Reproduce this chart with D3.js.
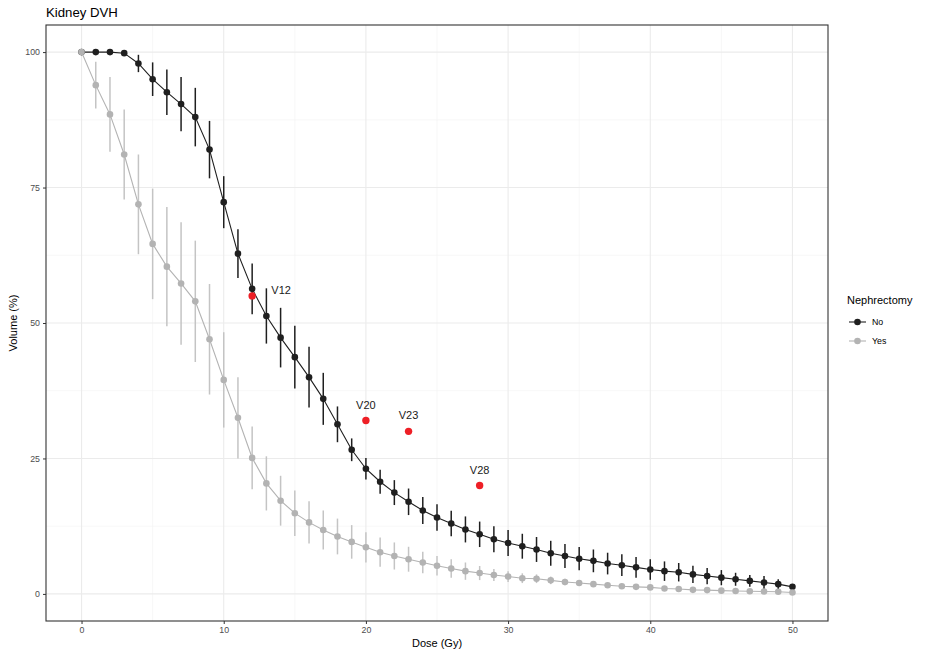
<!DOCTYPE html>
<html><head><meta charset="utf-8">
<script src="https://cdn.jsdelivr.net/npm/d3@7"></script>
<style>body{margin:0;background:#fff}svg{display:block}</style>
</head><body>
<script>
const dose = d3.range(0, 51);
const noMean = [100,100,100,99.8,97.9,95.0,92.6,90.4,88.0,82.0,72.3,62.8,56.3,51.3,47.3,43.7,40.0,36.0,31.3,26.6,23.1,20.7,18.7,17.0,15.4,14.1,13.0,11.9,11.0,10.1,9.4,8.8,8.2,7.5,7.0,6.5,6.1,5.6,5.3,4.9,4.5,4.2,4.0,3.6,3.3,3.0,2.7,2.4,2.1,1.8,1.3];
const noErr = [0,0,0,0.3,1.6,3.1,4.2,5.0,5.4,5.3,4.8,4.5,4.7,5.1,5.5,5.8,5.6,4.8,3.3,2.1,2.0,2.2,2.3,2.45,2.5,2.45,2.35,2.4,2.35,2.4,2.4,2.3,2.3,2.3,2.2,2.15,2.1,2.0,2.0,1.9,1.9,1.8,1.7,1.6,1.5,1.4,1.2,1.1,1.2,0.9,0.4];
const yesMean = [100,93.9,88.5,81.1,71.9,64.6,60.4,57.3,54.0,47.0,39.5,32.5,25.1,20.4,17.2,14.9,13.2,11.8,10.6,9.6,8.6,7.7,7.0,6.4,5.8,5.2,4.7,4.2,3.85,3.5,3.2,2.9,2.8,2.5,2.2,2.0,1.8,1.6,1.4,1.3,1.2,1.0,0.9,0.75,0.7,0.6,0.55,0.5,0.45,0.4,0.25];
const yesErr = [0,4.3,6.9,8.3,9.2,10.2,11.0,11.3,11.2,10.2,8.8,7.5,5.8,5.0,4.6,4.2,3.9,3.6,3.3,3.1,2.8,2.7,2.5,2.3,2.0,1.8,1.7,1.6,1.3,1.1,1.0,0.9,0.8,0.7,0.6,0.5,0.5,0.4,0.3,0.3,0.3,0.2,0.2,0.2,0.2,0.2,0.1,0.1,0.1,0.1,0.1];
const constraintLabels = ["V12","V20","V23","V28"];
const constraintDose = [12,20,23,28];
const constraintVol = [55,32,30,20];
const xTicks = [0,10,20,30,40,50];
const yTicks = [0,25,50,75,100];
const groups = ["No","Yes"];

const W = 941, H = 653;
const margin = {left:46, right:941-828, top:25, bottom:653-621};
const font = "'Liberation Sans', Arial, Helvetica, sans-serif";
const colors = {No:"#1f1f1f", Yes:"#b3b3b3"};
const errColors = {No:"#1f1f1f", Yes:"#c4c4c4"};

const svg = d3.select("body").append("svg").attr("width",W).attr("height",H)
  .style("font-family", font);

const x = d3.scaleLinear().domain([-2.5,52.5]).range([margin.left, W-margin.right]);
const y = d3.scaleLinear().domain([-5,105]).range([H-margin.bottom, margin.top]);

// grid
const g = svg.append("g");
const minorX = [5,15,25,35,45];
const minorY = [12.5,37.5,62.5,87.5];
g.selectAll(".mx").data(minorX).join("line")
  .attr("x1",d=>x(d)).attr("x2",d=>x(d)).attr("y1",y(-5)).attr("y2",y(105))
  .attr("stroke","#f2f2f2").attr("stroke-width",0.6);
g.selectAll(".my").data(minorY).join("line")
  .attr("y1",d=>y(d)).attr("y2",d=>y(d)).attr("x1",x(-2.5)).attr("x2",x(52.5))
  .attr("stroke","#f2f2f2").attr("stroke-width",0.6);
g.selectAll(".gx").data(xTicks).join("line")
  .attr("x1",d=>x(d)).attr("x2",d=>x(d)).attr("y1",y(-5)).attr("y2",y(105))
  .attr("stroke","#ebebeb").attr("stroke-width",1.1);
g.selectAll(".gy").data(yTicks).join("line")
  .attr("y1",d=>y(d)).attr("y2",d=>y(d)).attr("x1",x(-2.5)).attr("x2",x(52.5))
  .attr("stroke","#ebebeb").attr("stroke-width",1.1);

// axes
const xAxis = svg.append("g").attr("transform",`translate(0,${H-margin.bottom})`)
  .call(d3.axisBottom(x).tickValues(xTicks).tickSize(3).tickPadding(3));
const yAxis = svg.append("g").attr("transform",`translate(${margin.left},0)`)
  .call(d3.axisLeft(y).tickValues(yTicks).tickSize(3).tickPadding(3));
[xAxis,yAxis].forEach(a=>{
  a.select(".domain").remove();
  a.selectAll(".tick line").attr("stroke","#333333").attr("stroke-width",1);
  a.selectAll(".tick text").attr("fill","#4d4d4d").style("font-size","8.8px").style("font-family",font);
});

// series
const data = {
  No: dose.map((d,i)=>({d, m:noMean[i], e:noErr[i]})),
  Yes: dose.map((d,i)=>({d, m:yesMean[i], e:yesErr[i]}))
};
const line = d3.line().x(p=>x(p.d)).y(p=>y(p.m));
groups.forEach(k=>{
  const s = svg.append("g");
  s.selectAll("line.err").data(data[k].filter(p=>p.e>0)).join("line")
    .attr("x1",p=>x(p.d)).attr("x2",p=>x(p.d))
    .attr("y1",p=>y(p.m-p.e)).attr("y2",p=>y(p.m+p.e))
    .attr("stroke",errColors[k]).attr("stroke-width",1.5);
  s.append("path").datum(data[k]).attr("d",line).attr("fill","none")
    .attr("stroke",colors[k]).attr("stroke-width",1.1);
  s.selectAll("circle").data(data[k]).join("circle")
    .attr("cx",p=>x(p.d)).attr("cy",p=>y(p.m)).attr("r",3.3).attr("fill",colors[k]);
});

// constraints
const cons = constraintLabels.map((l,i)=>({l, d:constraintDose[i], v:constraintVol[i]}));
svg.selectAll("circle.c").data(cons).join("circle")
  .attr("cx",c=>x(c.d)).attr("cy",c=>y(c.v)).attr("r",3.7).attr("fill","#ee1f26");
svg.selectAll("text.c").data(cons).join("text")
  .attr("x",c=> c.l==="V12" ? x(c.d)+29 : x(c.d))
  .attr("y",c=> c.l==="V12" ? y(c.v)-2 : y(c.v)-12)
  .attr("text-anchor","middle").attr("fill","#1a1a1a").style("font-size","11px")
  .text(c=>c.l);

// panel border
svg.append("rect").attr("x",x(-2.5)).attr("y",y(105))
  .attr("width",x(52.5)-x(-2.5)).attr("height",y(-5)-y(105))
  .attr("fill","none").attr("stroke","#333333").attr("stroke-width",1.1);

// titles
svg.append("text").attr("x",46).attr("y",17).style("font-size","13.2px").attr("fill","#000").text("Kidney DVH");
svg.append("text").attr("x",(x(-2.5)+x(52.5))/2).attr("y",647).attr("text-anchor","middle")
  .style("font-size","11px").attr("fill","#000").text("Dose (Gy)");
svg.append("text").attr("transform",`translate(17,${(y(-5)+y(105))/2}) rotate(-90)`)
  .attr("text-anchor","middle").style("font-size","11px").attr("fill","#000").text("Volume (%)");

// legend
const lg = svg.append("g").attr("transform","translate(847,0)");
lg.append("text").attr("x",0).attr("y",304).style("font-size","11px").attr("fill","#000").text("Nephrectomy");
groups.forEach((k,i)=>{
  const cy = 322 + i*19;
  lg.append("line").attr("x1",2).attr("x2",19).attr("y1",cy).attr("y2",cy)
    .attr("stroke",colors[k]).attr("stroke-width",1.1);
  lg.append("circle").attr("cx",10.5).attr("cy",cy).attr("r",3.3).attr("fill",colors[k]);
  lg.append("text").attr("x",25).attr("y",cy+3.2).style("font-size","8.8px").attr("fill","#000").text(k);
});
</script>
</body></html>
